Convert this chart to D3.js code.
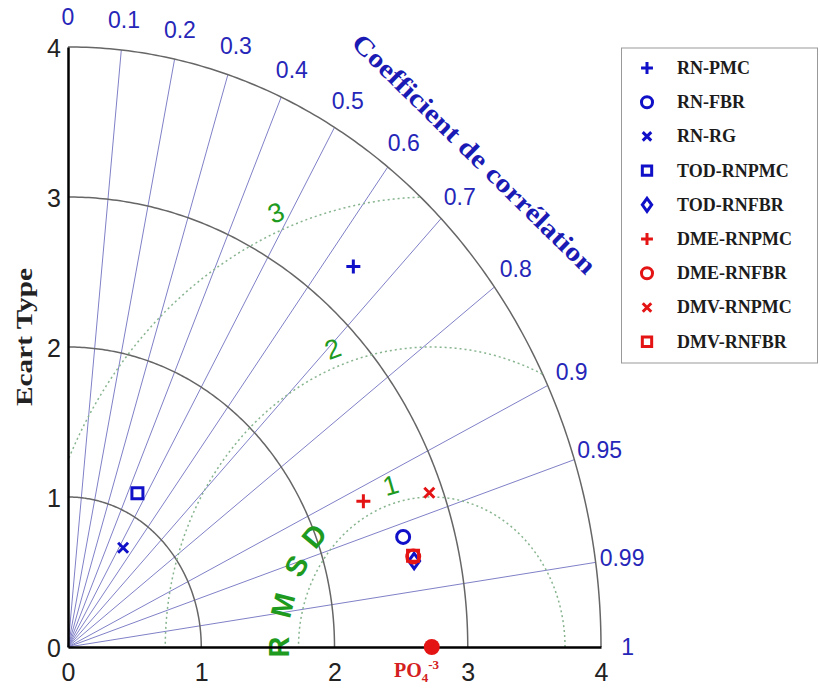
<!DOCTYPE html>
<html>
<head>
<meta charset="utf-8">
<script src="https://cdn.jsdelivr.net/npm/d3@7"></script>
<style>
  body { margin: 0; background: #fff; }
  text { font-family: "Liberation Sans", Arial, sans-serif; }
  .serif { font-family: "Liberation Serif", "Times New Roman", serif; font-weight: bold; }
</style>
</head>
<body>
<svg id="chart" width="820" height="688"></svg>
<script>
// models shown on the diagram
const models = ["RN-PMC", "RN-FBR", "RN-RG", "TOD-RNPMC", "TOD-RNFBR", "DME-RNPMC", "DME-RNFBR", "DMV-RNPMC", "DMV-RNFBR"];
const stdDevs = [3.32, 2.62, 0.78, 1.15, 2.66, 2.42, 2.66, 2.90, 2.66];
const correlations = [0.645, 0.960, 0.53, 0.453, 0.9765, 0.916, 0.974, 0.935, 0.9735];
const markerTypes = ["plus", "circle", "cross", "square", "diamond", "plus", "circle", "cross", "square"];
const markerColors = ["#1010c8", "#1010c8", "#1010c8", "#1010c8", "#1010c8", "#e41414", "#e41414", "#e41414", "#e41414"];

// observed reference
const refStd = 2.73;

// ticks and labels
const stdTicks = [0, 1, 2, 3, 4];
const stdArcs = [1, 2, 3, 4];
const corrTicks = [0, 0.1, 0.2, 0.3, 0.4, 0.5, 0.6, 0.7, 0.8, 0.9, 0.95, 0.99, 1];
const rmsdLevels = [1, 2, 3];
const rmsdLetters = ["R", "M", "S", "D"];

const svg = d3.select("#chart");

// the picture is a little stretched vertically, so two scales
const x = d3.scaleLinear().domain([0, 4]).range([68, 601]);
const y = d3.scaleLinear().domain([0, 4]).range([647, 47]);
const rad = deg => deg * Math.PI / 180;
const polar = (r, a) => [x(r * Math.cos(a)), y(r * Math.sin(a))];

const line = d3.line();

// correlation rays
svg.append("g")
    .selectAll("line")
    .data(corrTicks.filter(c => c > 0 && c < 1))
    .enter()
    .append("line")
    .attr("x1", x(0))
    .attr("y1", y(0))
    .attr("x2", c => polar(4, Math.acos(c))[0])
    .attr("y2", c => polar(4, Math.acos(c))[1])
    .attr("stroke", "#8080c8")
    .attr("stroke-width", 1);

// std dev arcs
const angles = d3.range(0, 90.01, 0.5).map(rad);
svg.append("g")
    .selectAll("path")
    .data(stdArcs)
    .enter()
    .append("path")
    .attr("d", r => line(angles.map(a => polar(r, a))))
    .attr("fill", "none")
    .attr("stroke", "#666")
    .attr("stroke-width", 1.5);

// RMSD arcs around the reference point, clipped to the quadrant
const phis = d3.range(0, 180.01, 0.25).map(rad);
svg.append("g")
    .selectAll("path")
    .data(rmsdLevels)
    .enter()
    .append("path")
    .attr("d", R => {
        const pts = phis.map(p => [refStd + R * Math.cos(p), R * Math.sin(p)])
            .filter(([a, b]) => a >= 0 && b >= 0 && Math.hypot(a, b) <= 4);
        return line(pts.map(([a, b]) => [x(a), y(b)]));
    })
    .attr("fill", "none")
    .attr("stroke", "#86b48e")
    .attr("stroke-width", 1.5)
    .attr("stroke-dasharray", "2,3");

// RMSD level labels
const rmsdLabelAngles = [106, 110.5, 112];
svg.append("g")
    .selectAll("text")
    .data(rmsdLevels)
    .enter()
    .append("text")
    .attr("transform", (R, i) => {
        const p = rad(rmsdLabelAngles[i]);
        const px = x(refStd + (R + 0.12) * Math.cos(p));
        const py = y((R + 0.12) * Math.sin(p));
        return `translate(${px},${py}) rotate(${90 - rmsdLabelAngles[i]})`;
    })
    .attr("text-anchor", "middle")
    .attr("dominant-baseline", "central")
    .attr("font-size", 27)
    .attr("fill", "#1e9a1e")
    .text(d => d);

// "RMSD" written along a circle around the reference
const letterAngles = [180, 166, 152, 140];
svg.append("g")
    .selectAll("text")
    .data(rmsdLetters)
    .enter()
    .append("text")
    .attr("transform", (d, i) => {
        const p = rad(letterAngles[i]);
        const px = x(refStd + 1.15 * Math.cos(p));
        const py = y(1.15 * Math.sin(p));
        return `translate(${px},${py}) rotate(${90 - letterAngles[i]})`;
    })
    .attr("text-anchor", "middle")
    .attr("dominant-baseline", "central")
    .attr("font-size", 29)
    .attr("font-weight", "bold")
    .attr("fill", "#1e9a1e")
    .text(d => d);

// axes
const xAxis = svg.append("g")
    .attr("transform", `translate(0,${y(0)})`)
    .call(d3.axisBottom(x).tickValues(stdTicks).tickSize(0).tickPadding(16).tickFormat(d3.format("d")));
const yAxis = svg.append("g")
    .attr("transform", `translate(${x(0)},0)`)
    .call(d3.axisLeft(y).tickValues(stdTicks).tickSize(0).tickPadding(7).tickFormat(d3.format("d")));
[xAxis, yAxis].forEach(g => {
    g.select(".domain").attr("stroke", "#000").attr("stroke-width", 2.5);
    g.selectAll("text").attr("font-size", 25).attr("fill", "#222")
        .style("font-family", "'Liberation Sans', Arial, sans-serif");
});
yAxis.selectAll("text").attr("dy", "0.36em");

// correlation labels
svg.append("g")
    .selectAll("text")
    .data(corrTicks)
    .enter()
    .append("text")
    .attr("x", c => polar(4.2, Math.acos(c))[0])
    .attr("y", c => polar(4.2, Math.acos(c))[1])
    .attr("text-anchor", "middle")
    .attr("dominant-baseline", "central")
    .attr("font-size", 23)
    .attr("fill", "#2626b8")
    .text(c => c);

// axis titles
svg.append("text")
    .attr("class", "serif")
    .attr("transform", "translate(474,154) rotate(44.5)")
    .attr("text-anchor", "middle")
    .attr("dominant-baseline", "central")
    .attr("font-size", 26)
    .attr("fill", "#1a1ab4")
    .attr("textLength", 330)
    .attr("lengthAdjust", "spacingAndGlyphs")
    .text("Coefficient de corrélation");

svg.append("text")
    .attr("class", "serif")
    .attr("transform", "translate(24,337) rotate(-90)")
    .attr("text-anchor", "middle")
    .attr("dominant-baseline", "central")
    .attr("font-size", 24)
    .attr("fill", "#222")
    .attr("textLength", 138)
    .attr("lengthAdjust", "spacingAndGlyphs")
    .text("Ecart Type");

// marker shapes
function symbolPath(type, s) {
    switch (type) {
        case "plus": return `M${-s},0H${s}M0,${-s}V${s}`;
        case "cross": return `M${-s},${-s}L${s},${s}M${-s},${s}L${s},${-s}`;
        case "circle": return `M${s},0A${s},${s} 0 1,1 ${-s},0A${s},${s} 0 1,1 ${s},0`;
        case "square": return `M${-s},${-s}H${s}V${s}H${-s}Z`;
        case "diamond": return `M0,${-s * 1.4}L${s},0L0,${s * 1.4}L${-s},0Z`;
    }
}
const markerSize = { plus: 7, cross: 5, circle: 6.5, square: 5.5, diamond: 5.5 };

// reference point
svg.append("circle")
    .attr("cx", x(refStd))
    .attr("cy", y(0))
    .attr("r", 8)
    .attr("fill", "#e41414");

const refLabel = svg.append("text")
    .attr("class", "serif")
    .attr("x", 394)
    .attr("y", 677)
    .attr("font-size", 20)
    .attr("fill", "#d42020");
refLabel.append("tspan").text("PO");
refLabel.append("tspan").attr("font-size", 13).attr("dy", 5).text("4");
refLabel.append("tspan").attr("font-size", 13).attr("dy", -13).text("-3");

// model points
svg.append("g")
    .selectAll("path")
    .data(models)
    .enter()
    .append("path")
    .attr("transform", (d, i) => {
        const [px, py] = polar(stdDevs[i], Math.acos(correlations[i]));
        return `translate(${px},${py})`;
    })
    .attr("d", (d, i) => symbolPath(markerTypes[i], markerSize[markerTypes[i]]))
    .attr("fill", "none")
    .attr("stroke", (d, i) => markerColors[i])
    .attr("stroke-width", 3);

// legend
const legend = svg.append("g");
legend.append("rect")
    .attr("x", 621.5)
    .attr("y", 48)
    .attr("width", 196)
    .attr("height", 315)
    .attr("fill", "#fff")
    .attr("stroke", "#999")
    .attr("stroke-width", 1);

const row = d3.scalePoint().domain(models).range([68, 341.7]);
const items = legend.selectAll("g.item")
    .data(models)
    .enter()
    .append("g")
    .attr("class", "item")
    .attr("transform", d => `translate(0,${row(d)})`);
items.append("path")
    .attr("transform", "translate(647,0)")
    .attr("d", (d, i) => symbolPath(markerTypes[i], markerSize[markerTypes[i]] * 0.85))
    .attr("fill", "none")
    .attr("stroke", (d, i) => markerColors[i])
    .attr("stroke-width", 3);
items.append("text")
    .attr("class", "serif")
    .attr("x", 677)
    .attr("dominant-baseline", "central")
    .attr("font-size", 18)
    .attr("fill", "#1c1c1c")
    .text(d => d);
</script>
</body>
</html>
